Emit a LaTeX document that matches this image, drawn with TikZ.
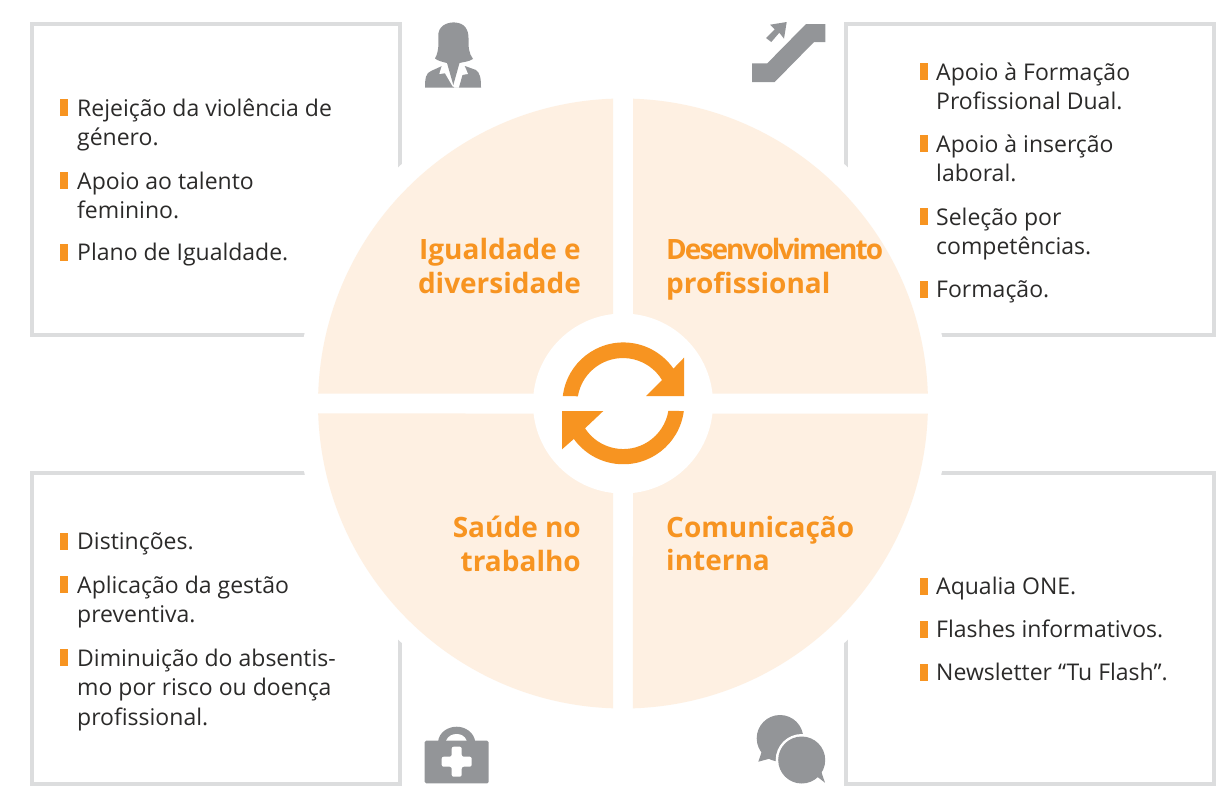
\documentclass[tikz,border=0pt]{standalone}
\usepackage{fontspec}
\setmainfont{Open Sans}
\definecolor{orangeM}{HTML}{F79421}
\definecolor{peach}{HTML}{FEF0E2}
\definecolor{iconGray}{HTML}{939598}
\definecolor{frameGray}{HTML}{DCDDDE}
\definecolor{bodyText}{HTML}{2B2A29}
\tikzset{
  frame/.style={draw=frameGray,line width=4pt},
  quad/.style={fill=peach},
  icon/.style={fill=iconGray},
  bulletmark/.style={fill=orangeM,minimum width=8pt,minimum height=17pt,inner sep=0pt},
  itemtxt/.style={anchor=north west,inner sep=0pt,align=left,text=bodyText,font=\fontsize{23}{29.5}\selectfont,execute at begin node=\strut},
  toplabel/.style={inner sep=0pt,text=orangeM,font=\fontsize{28}{33.5}\selectfont\bfseries,execute at begin node=\strut},
  lablL/.style={toplabel,anchor=north east,align=right},
  lablR/.style={toplabel,anchor=north west,align=left}
}
\begin{document}
\begin{tikzpicture}[x=1pt,y=1pt,yscale=-1]
\useasboundingbox (0,0) rectangle (1230,796);
% frames
\draw[frame] (32,24) rectangle (400,335);
\draw[frame] (846,24) rectangle (1214,335);
\draw[frame] (32,473) rectangle (400,784);
\draw[frame] (846,473) rectangle (1214,784);
\fill[white] (623,403.5) circle (326);
% quadrants
\fill[quad] (613,393.5) -- (318.2,393.5) arc (181.88:268.12:305) -- cycle;
\fill[quad] (633,393.5) -- (633,98.7) arc (271.88:358.12:305) -- cycle;
\fill[quad] (633,413.5) -- (927.8,413.5) arc (1.88:88.12:305) -- cycle;
\fill[quad] (613,413.5) -- (613,708.3) arc (91.88:178.12:305) -- cycle;
\fill[white] (623,403.5) circle (90);
% refresh arrows
\fill[orangeM] (562.8,396) arc (187:325.2:61) -- (684,357.7) -- (684,396) -- (646,396) -- (662,380) arc (328.7:189.4:45.7) -- cycle;
\fill[orangeM] (683.8,411) arc (7.3:144.2:61) -- (562,449.3) -- (562,411) -- (603.3,411) -- (585,428.3) arc (146.9:9.6:45.7) -- cycle;
% labels
\node[lablL] (igual) at (581,238.5) {Igualdade e\\diversidade};
\node[lablR] (desen) at (666,238.5) {{\addfontfeature{LetterSpace=-7.0}Desenvolvimento}\\profissional};
\node[lablL] (saude) at (581,516) {Saúde no\\trabalho};
\node[lablR] (comun) at (666,516) {Comunicação\\interna};
% top-left list
\node[bulletmark] (bA) at (64,107) {};
\node[itemtxt] (tA) at (77,98.5) {Rejeição da violência de\\género.};
\node[bulletmark] (bB) at (64,180) {};
\node[itemtxt] (tB) at (77,171.5) {Apoio ao talento\\feminino.};
\node[bulletmark] (bC) at (64,252) {};
\node[itemtxt] (tC) at (77,239.5) {Plano de Igualdade.};
% top-right list
\node[bulletmark] (bD) at (924,71) {};
\node[itemtxt] (tD) at (936,62.5) {Apoio à Formação\\Profissional Dual.};
\node[bulletmark] (bE) at (924,143) {};
\node[itemtxt] (tE) at (936,134.5) {Apoio à inserção\\laboral.};
\node[bulletmark] (bF) at (924,216) {};
\node[itemtxt] (tF) at (936,207.5) {Seleção por\\competências.};
\node[bulletmark] (bG) at (924,289) {};
\node[itemtxt] (tG) at (936,276.5) {Formação.};
% bottom-left list
\node[bulletmark] (bH) at (64,541) {};
\node[itemtxt] (tH) at (77,528.5) {Distinções.};
\node[bulletmark] (bI) at (64,584) {};
\node[itemtxt] (tI) at (77,575.5) {Aplicação da gestão\\preventiva.};
\node[bulletmark] (bJ) at (64,657) {};
\node[itemtxt] (tJ) at (77,648.5) {Diminuição do absentis-\\mo por risco ou doença\\profissional.};
% bottom-right list
\node[bulletmark] (bK) at (924,586) {};
\node[itemtxt] (tK) at (936,573.5) {Aqualia ONE.};
\node[bulletmark] (bL) at (924,629) {};
\node[itemtxt] (tL) at (936,616.5) {Flashes informativos.};
\node[bulletmark] (bM) at (924,672) {};
\node[itemtxt] (tM) at (936,659.5) {Newsletter “Tu Flash”.};
% woman icon
\fill[icon] (425,87.5) .. controls (425,78) and (426,73) .. (431,71) -- (442,66) -- (454,87.5) -- (459,87.5) -- (465,66) -- (476,70) .. controls (480,73) and (481,78) .. (481,87.5) -- cycle;
\fill[white] (441.7,66) -- (439.3,74) -- (445,73.3) -- (452.7,86.5) -- (454,86.5) -- (461.7,75) -- (468,74) -- (465,66.7) -- cycle;
\fill[icon] (435,58.5) .. controls (440,50) and (438,38) .. (438.5,33) .. controls (440,24) and (450,22) .. (455,22.5) .. controls (465,23) and (468.5,30) .. (468.5,38) .. controls (468.5,47) and (468.5,53) .. (473,59) .. controls (468,62) and (463,62) .. (459.5,63) -- (453.3,85) -- (447,63) .. controls (443,62) and (438,61) .. (435,58.5) -- cycle;
% escalator icon
\fill[icon] (752,63.3) -- (767.3,63.3) -- (806,24) -- (825.3,24) -- (825.3,42) -- (814,42) -- (774.7,82) -- (752,82) -- cycle;
\fill[icon] (770,24.7) -- (786.7,22) -- (784,38.7) -- (779.3,32.7) -- (771.3,42) -- (766,38) -- (774.7,29.3) -- cycle;
% medical kit icon
\fill[icon] (438,742) .. controls (439,732) and (448,726.7) .. (456.7,726.7) .. controls (465,726.7) and (474,732) .. (475.3,742) -- cycle;
\fill[icon,rounded corners=1.5pt] (424.7,740.7) rectangle (488.7,783.3);
\fill[white] (446,740.7) .. controls (448,736) and (452,734) .. (456.7,734) .. controls (461,734) and (465,736) .. (466.7,740.7) -- cycle;
\fill[white,rounded corners=2pt] (451.7,746.7) -- (461.7,746.7) -- (461.7,756.7) -- (471.7,756.7) -- (471.7,766.7) -- (461.7,766.7) -- (461.7,776.7) -- (451.7,776.7) -- (451.7,766.7) -- (441.7,766.7) -- (441.7,756.7) -- (451.7,756.7) -- cycle;
% speech bubbles
\fill[icon] (780,738.3) circle (23.3);
\fill[icon] (763,748) -- (758.3,761.7) -- (772,758) -- cycle;
\fill[white] (801.7,760) circle (26);
\fill[icon] (801.7,760) circle (23.5);
\fill[icon] (815,775) -- (825,782.7) -- (820,768) -- cycle;
\end{tikzpicture}
\end{document}
